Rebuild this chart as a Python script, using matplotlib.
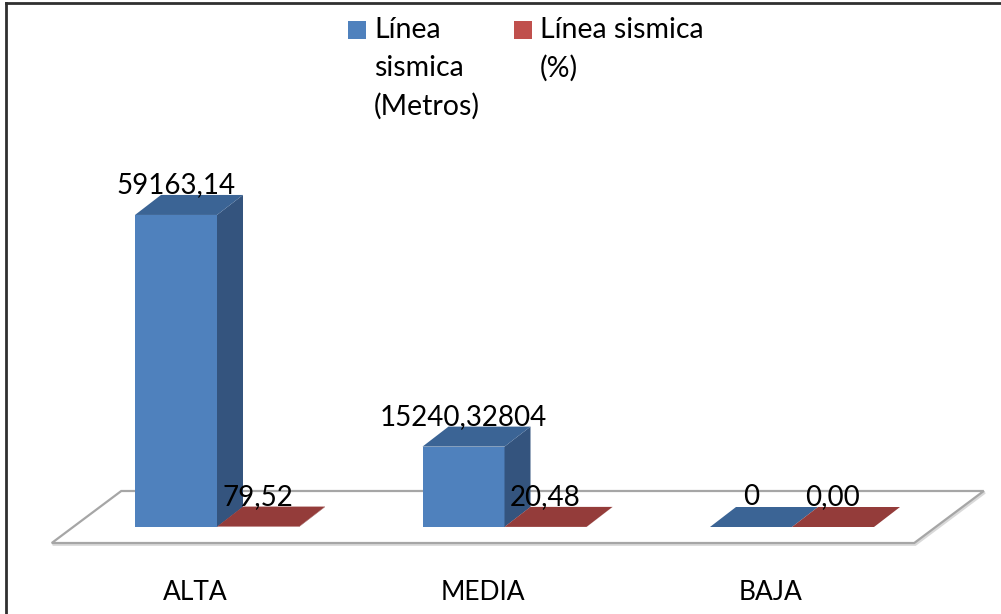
import matplotlib
matplotlib.use('Agg')
import matplotlib.pyplot as plt
from matplotlib.patches import Polygon, Rectangle
from matplotlib.lines import Line2D
import numpy as np

# datos
categories = ['ALTA', 'MEDIA', 'BAJA']
metros = [59163.14, 15240.32804, 0]
porcentaje = [79.52, 20.48, 0.00]
metros_labels = ['59163,14', '15240,32804', '0']
porcentaje_labels = ['79,52', '20,48', '0,00']
series_names = ['Línea\nsismica\n(Metros)', 'Línea sismica\n(%)']

plt.rcParams['font.family'] = ['Lato', 'DejaVu Sans']

W, H = 1001, 614
fig = plt.figure(figsize=(W / 100, H / 100), dpi=100)
ax = fig.add_axes([0, 0, 1, 1])

# escala: pixeles por categoria y valor por pixel
pitch = 287.5
x_origin = 217
y_base = 527
vpp = 189.6


def px_x(p):
    return p / pitch


def px_y(p):
    return p * vpp


ax.set_xlim(-x_origin / pitch, (W - x_origin) / pitch)
ax.set_ylim(-(H - y_base) * vpp, y_base * vpp)
ax.axis('off')

# piso
fx, fy = px_x(21.5), px_y(16)
bx, by = px_x(48), px_y(36)
floor = [(-0.5 - fx, -fy), (2.5 - fx, -fy), (2.5 + bx, by), (-0.5 + bx, by)]
ax.add_patch(Polygon([(a + px_x(1), b - px_y(1.5)) for a, b in floor], closed=True,
                     facecolor='none', edgecolor='#d9d9d9', lw=2, zorder=1))
ax.add_patch(Polygon(floor, closed=True, facecolor='white', edgecolor='#a6a6a6',
                     lw=1.6, zorder=1))

# barras con efecto 3D
x = np.arange(len(categories))
w = 82 / pitch
dx, dy = px_x(26), px_y(20)

colors = [('#4f81bd', '#3b6495', '#34547e'), ('#c0504d', '#943c3a', '#7b2f2d')]
series = [metros, porcentaje]
labels = [metros_labels, porcentaje_labels]
offsets = [-w / 2, w / 2]

for k in range(2):
    front, top, side = colors[k]
    bars = ax.bar(x + offsets[k], series[k], width=w, color=front, zorder=3 + 2 * k)
    for rect, txt in zip(bars, labels[k]):
        x0 = rect.get_x()
        x1 = x0 + rect.get_width()
        v = rect.get_height()
        ax.add_patch(Polygon([(x1, 0), (x1, v), (x1 + dx, v + dy), (x1 + dx, dy)],
                             closed=True, facecolor=side, edgecolor='none', zorder=3 + 2 * k))
        ax.add_patch(Polygon([(x0, v), (x0 + dx, v + dy), (x1 + dx, v + dy), (x1, v)],
                             closed=True, facecolor=top, edgecolor='none', zorder=4 + 2 * k))
        ax.text((x0 + x1) / 2, v + dy + px_y(2), txt, ha='center', va='baseline',
                fontsize=20, color='black', zorder=10)

# etiquetas de categoria
for i, cat in enumerate(categories):
    ax.text(i - fx, -px_y(592 - y_base), cat, ha='center', va='center',
            fontsize=19, color='black')

# leyenda
legend_pos = [(348, 374), (514, 540)]
for k, name in enumerate(series_names):
    sx, tx = legend_pos[k]
    fig.add_artist(Rectangle((sx / W, 1 - 39 / H), 18 / W, 18 / H,
                             transform=fig.transFigure, facecolor=colors[k][0],
                             edgecolor='none'))
    fig.text(tx / W, 1 - 17 / H, name, ha='left', va='top', fontsize=20.5,
             linespacing=1.55)

# marco
fig.add_artist(Line2D([6 / W, 6 / W], [0, 1 - 3 / H], transform=fig.transFigure,
                      color='#303030', lw=2))
fig.add_artist(Line2D([6 / W, 1], [1 - 3 / H, 1 - 3 / H], transform=fig.transFigure,
                      color='#303030', lw=2))

fig.savefig('out.png', dpi=100, facecolor='white')
